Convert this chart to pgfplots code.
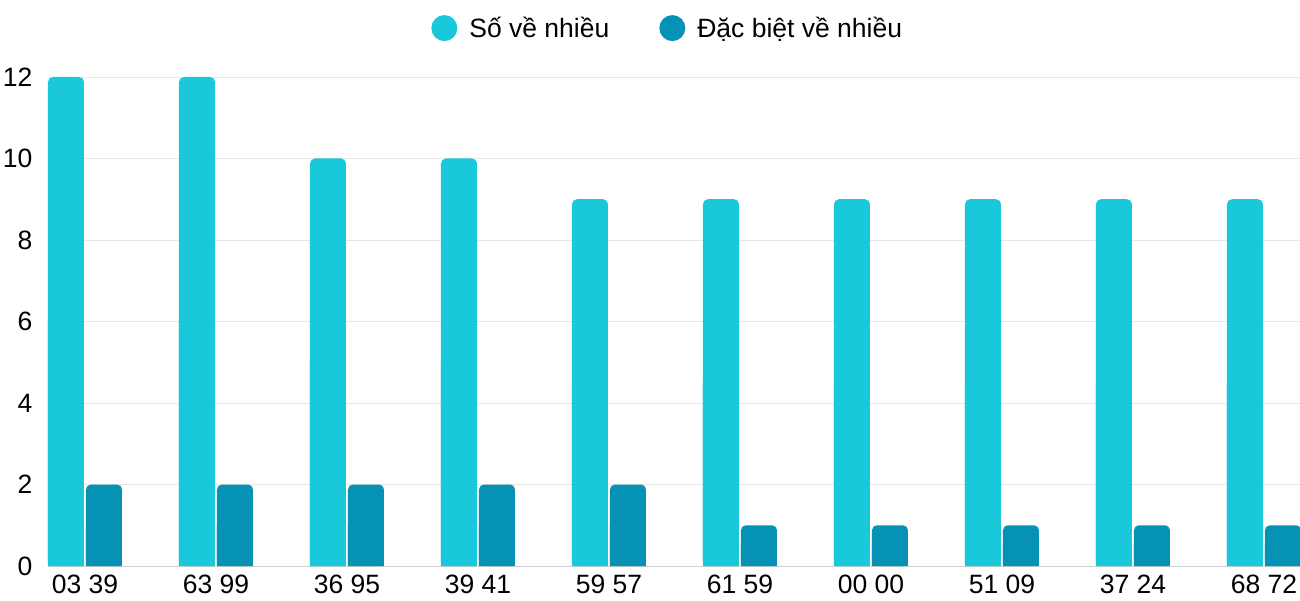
\documentclass[border=0pt]{standalone}
\usepackage{pgfplots}
\usepackage{pgfplotstable}
\pgfplotsset{compat=1.18}
\usepackage{fontspec}
\setmainfont{Liberation Sans}
\definecolor{lightc}{HTML}{1AC8DB}
\definecolor{darkc}{HTML}{0592B5}
\definecolor{gridc}{HTML}{E6E6E6}
\definecolor{axc}{HTML}{D0D0D0}
\pgfplotstableread{
x a b
0 12 2
1 12 2
2 10 2
3 10 2
4 9 2
5 9 1
6 9 1
7 9 1
8 9 1
9 9 1
}\datatable
\begin{document}
\begin{tikzpicture}
\path[use as bounding box] (0,0) rectangle (1300pt,600pt);
\begin{axis}[
  at={(48pt,34pt)}, anchor=south west,
  scale only axis, width=1252pt, height=489pt,
  xmin=-0.2824, xmax=9.275, ymin=0, ymax=12,
  xtick={0,...,9},
  xticklabels={03 39,63 99,36 95,39 41,59 57,61 59,00 00,51 09,37 24,68 72},
  ytick={0,2,...,12},
  ymajorgrids, grid style={draw=gridc, line width=0.8pt},
  axis x line*=bottom, axis y line*=left,
  x axis line style={draw=axc, line width=1pt, -},
  y axis line style={draw=none},
  tick style={draw=none},
  /pgf/number format/assume math mode=true,
  ticklabel style={font=\fontsize{26.5}{30}\selectfont},
  yticklabel style={xshift=-12pt},
  xticklabel style={yshift=-1pt},
  ybar, bar width=36pt,
  legend style={draw=none, fill=none, at={(0.495,1.10)}, anchor=center,
    legend columns=2, font=\fontsize{26.5}{30}\selectfont,
    /tikz/every even column/.append style={column sep=48pt},
    /tikz/every odd column/.append style={column sep=10pt}},
  legend image code/.code={\fill[#1] (13pt,0pt) circle (13pt);},
]
\addplot[fill=lightc, draw=none, bar shift=-19pt, rounded corners=5pt] table[x=x,y=a] {\datatable};
\addlegendentry{Số về nhiều}
\addplot[fill=darkc, draw=none, bar shift=19pt, rounded corners=5pt] table[x=x,y=b] {\datatable};
\addlegendentry{Đặc biệt về nhiều}
\addplot[fill=lightc, draw=none, bar shift=-19pt, forget plot] table[x=x,y expr=\thisrow{a}/2] {\datatable};
\addplot[fill=darkc, draw=none, bar shift=19pt, forget plot] table[x=x,y expr=\thisrow{b}/2] {\datatable};
\end{axis}
\end{tikzpicture}
\end{document}
